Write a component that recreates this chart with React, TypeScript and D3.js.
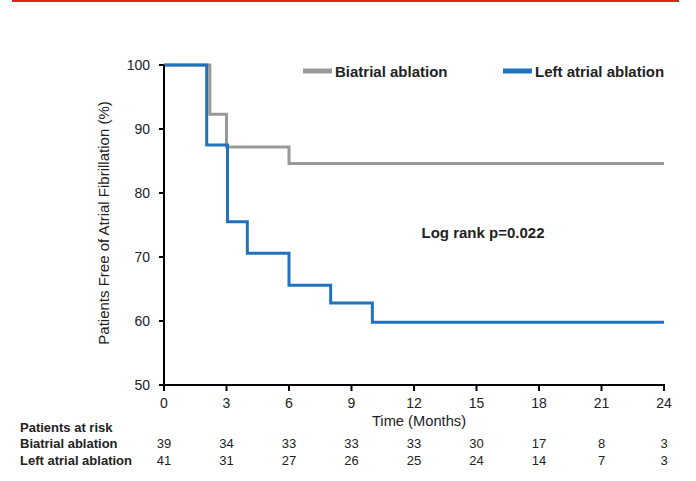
import React from "react";
import * as d3 from "d3";

const seriesNames = ["Biatrial ablation", "Left atrial ablation"];
const biatrialTimes = [0, 2.2, 3, 6, 24];
const biatrialValues = [100, 92.3, 87.2, 84.6, 84.6];
const leftTimes = [0, 2.05, 3.05, 4, 6, 8, 10, 24];
const leftValues = [100, 87.5, 75.5, 70.6, 65.6, 62.8, 59.8, 59.8];
const xTicks = [0, 3, 6, 9, 12, 15, 18, 21, 24];
const yTicks = [50, 60, 70, 80, 90, 100];
const riskBiatrial = [39, 34, 33, 33, 33, 30, 17, 8, 3];
const riskLeft = [41, 31, 27, 26, 25, 24, 14, 7, 3];
const colors = ["#999999", "#1f72bb"];

const FONT = "'Liberation Sans', Arial, sans-serif";

export default function App() {
  const x = d3.scaleLinear().domain([0, 24]).range([164, 664]);
  const y = d3.scaleLinear().domain([50, 100]).range([385, 65]);
  const line = d3
    .line<[number, number]>()
    .x((d) => x(d[0]))
    .y((d) => y(d[1]))
    .curve(d3.curveStepAfter);
  const gray = biatrialTimes.map((t, i) => [t, biatrialValues[i]] as [number, number]);
  const blue = leftTimes.map((t, i) => [t, leftValues[i]] as [number, number]);
  const rows = [
    { name: seriesNames[0], vals: riskBiatrial, yb: 448 },
    { name: seriesNames[1], vals: riskLeft, yb: 465 },
  ];
  const legends = [
    { name: seriesNames[0], color: colors[0], x0: 303 },
    { name: seriesNames[1], color: colors[1], x0: 503 },
  ];
  return (
    <div style={{ position: "absolute", left: 0, top: 0 }}>
      <svg width={696} height={481} style={{ display: "block", background: "#fff" }} fontFamily={FONT}>
        <rect x={12} y={0} width={667} height={2} fill="#e3201b" />
        <path d={line(gray) || ""} fill="none" stroke={colors[0]} strokeWidth={3} />
        <path d={line(blue) || ""} fill="none" stroke={colors[1]} strokeWidth={3} />
        {/* axes */}
        <line x1={x(0)} x2={x(0)} y1={y(100)} y2={y(50)} stroke="#000" strokeWidth={2} />
        <line x1={x(0) - 1} x2={x(24) + 1} y1={y(50)} y2={y(50)} stroke="#000" strokeWidth={2} />
        {yTicks.map((t) => (
          <g key={"y" + t}>
            <line x1={x(0) - 5} x2={x(0)} y1={y(t)} y2={y(t)} stroke="#000" strokeWidth={2} />
            <text x={150} y={y(t) + 5} textAnchor="end" fontSize={14} fill="#222">
              {t}
            </text>
          </g>
        ))}
        {xTicks.map((t) => (
          <g key={"x" + t}>
            <line x1={x(t)} x2={x(t)} y1={y(50)} y2={y(50) + 6} stroke="#000" strokeWidth={2} />
            <text x={x(t)} y={408} textAnchor="middle" fontSize={14} fill="#222">
              {t}
            </text>
          </g>
        ))}
        <text x={419} y={426} textAnchor="middle" fontSize={14.7} fill="#222">
          Time (Months)
        </text>
        <text
          transform={`translate(109,223) rotate(-90)`}
          textAnchor="middle"
          fontSize={15}
          fill="#222"
        >
          Patients Free of Atrial Fibrillation (%)
        </text>
        {legends.map((l) => (
          <g key={l.name}>
            <line x1={l.x0} x2={l.x0 + 29} y1={71} y2={71} stroke={l.color} strokeWidth={5} />
            <text x={l.x0 + 32} y={77} fontSize={15} fontWeight="bold" fill="#222">
              {l.name}
            </text>
          </g>
        ))}
        <text x={483} y={238} textAnchor="middle" fontSize={15} fontWeight="bold" fill="#222">
          Log rank p=0.022
        </text>
        <text x={20} y={432} fontSize={13} fontWeight="bold" fill="#222">
          Patients at risk
        </text>
        {rows.map((r) => (
          <g key={r.name}>
            <text x={20} y={r.yb} fontSize={13} fontWeight="bold" fill="#222">
              {r.name}
            </text>
            {r.vals.map((v, i) => (
              <text key={i} x={x(xTicks[i])} y={r.yb} textAnchor="middle" fontSize={13} fill="#222">
                {v}
              </text>
            ))}
          </g>
        ))}
      </svg>
    </div>
  );
}
